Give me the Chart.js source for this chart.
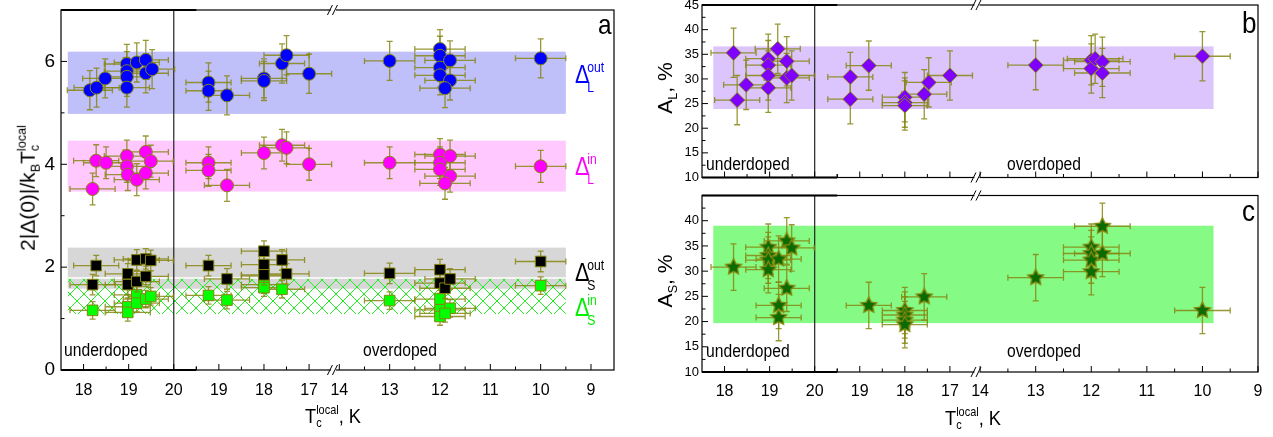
<!DOCTYPE html>
<html>
<head>
<meta charset="utf-8">
<script src="https://cdn.jsdelivr.net/npm/chart.js@4.4.1/dist/chart.umd.min.js"></script>
<style>
  body { margin: 0; background: #fff; width: 1273px; height: 437px; overflow: hidden; position: relative;
         font-family: "Liberation Sans", Arial, sans-serif; }
  canvas { position: absolute; }
  .t { position: absolute; white-space: nowrap; line-height: 1; color: #000; }
  .n { transform: scaleX(0.87); transform-origin: left top; }
  .st { display: inline-block; vertical-align: middle; font-size: 0.6em; line-height: 1.05; }
  .st span { display: block; }
  .dg { font-size: 25px; }
  .sp, .sb { position: absolute; left: 14px; font-size: 14px; }
  .sp { top: -2px; }
  .sb { top: 18px; }
  .rot { transform: translate(-50%, -50%) rotate(-90deg); }
</style>
</head>
<body>
<canvas id="chartA" width="640" height="437" style="left:0;top:0"></canvas>
<canvas id="chartB" width="633" height="192" style="left:640px;top:-6px"></canvas>
<canvas id="chartC" width="633" height="251" style="left:640px;top:186px"></canvas>

<div class="t n" style="left:598px;top:11px;font-size:28px">a</div>
<div class="t n" style="left:1242px;top:8px;font-size:30px">b</div>
<div class="t n" style="left:1242px;top:196px;font-size:30px">c</div>

<div class="t n" style="left:575px;top:62px;color:#0000ff"><span class="dg">Δ</span><span class="sp">out</span><span class="sb">L</span></div>
<div class="t n" style="left:575px;top:154px;color:#ff00ff"><span class="dg">Δ</span><span class="sp">in</span><span class="sb">L</span></div>
<div class="t n" style="left:575px;top:260px;color:#000"><span class="dg">Δ</span><span class="sp">out</span><span class="sb">S</span></div>
<div class="t n" style="left:575px;top:295px;color:#00ee00"><span class="dg">Δ</span><span class="sp">in</span><span class="sb">S</span></div>

<div class="t n" style="left:64px;top:341px;font-size:18px">underdoped</div>
<div class="t n" style="left:363px;top:341px;font-size:18px">overdoped</div>
<div class="t n" style="left:706px;top:155px;font-size:18px">underdoped</div>
<div class="t n" style="left:1007px;top:155px;font-size:18px">overdoped</div>
<div class="t n" style="left:706px;top:342px;font-size:18px">underdoped</div>
<div class="t n" style="left:1007px;top:342px;font-size:18px">overdoped</div>

<div class="t n" style="left:305px;top:404px;font-size:21px">T<span class="st"><span>local</span><span>c</span></span>, K</div>
<div class="t n" style="left:945px;top:406px;font-size:21px">T<span class="st"><span>local</span><span>c</span></span>, K</div>
<div class="t rot" style="left:29px;top:188px;font-size:21px">2|Δ(0)|/k<sub style="font-size:0.6em">B</sub>T<span class="st"><span>local</span><span>c</span></span></div>
<div class="t rot" style="left:667px;top:88px;font-size:21px">A<sub style="font-size:0.6em">L</sub>, %</div>
<div class="t rot" style="left:667px;top:281px;font-size:21px">A<sub style="font-size:0.6em">S</sub>, %</div>

<script>
// Tc axis: underdoped 17.5..20 then overdoped 20..17 // 14..9
const UNDER_TICKS = [18, 19, 20];
const OVER_TICKS = [19, 18, 17, 14, 13, 12, 11, 10, 9];
const UNDER_MINOR = [18.5, 19.5, 20.5];
const OVER_MINOR = [19.5, 18.5, 17.5, 13.5, 12.5, 11.5, 10.5, 9.5];
const X_ERR = 0.5;

// panel a: [Tc, 2|Δ(0)|/kBTc]
const dLoutUnder = [[18.14, 5.44], [18.29, 5.49], [18.48, 5.67], [18.96, 5.95], [18.96, 5.81], [18.96, 5.70], [18.96, 5.49], [19.18, 5.98], [19.38, 6.03], [19.38, 5.77], [19.52, 5.85]];
const dLoutOver = [[19.23, 5.59], [19.23, 5.43], [18.82, 5.34], [18.0, 5.67], [18.0, 5.62], [17.6, 5.96], [17.5, 6.12], [17.0, 5.76], [13.0, 6.01], [12.0, 6.24], [12.0, 6.11], [12.0, 5.88], [12.0, 5.73], [11.8, 6.02], [11.8, 5.63], [11.9, 5.48], [10.0, 6.06]];
const dLinUnder = [[18.2, 3.52], [18.28, 4.07], [18.5, 4.03], [18.96, 4.16], [18.96, 3.96], [18.98, 3.80], [19.18, 3.70], [19.38, 4.24], [19.49, 4.06], [19.38, 3.83]];
const dLinOver = [[19.23, 4.03], [19.23, 3.88], [18.82, 3.59], [18.0, 4.22], [17.6, 4.37], [17.5, 4.32], [17.0, 4.00], [13.0, 4.03], [12.0, 4.19], [12.0, 4.03], [12.0, 3.90], [11.8, 4.16], [11.8, 3.77], [11.9, 3.63], [10.0, 3.96]];
const dSoutUnder = [[18.28, 2.03], [18.2, 1.66], [18.98, 1.87], [18.98, 1.66], [19.18, 2.14], [19.18, 1.72], [19.38, 2.16], [19.49, 2.13], [19.38, 1.82]];
const dSoutOver = [[19.23, 2.03], [18.82, 1.77], [18.0, 2.31], [18.0, 2.05], [18.0, 1.85], [17.6, 2.14], [17.5, 1.87], [13.0, 1.88], [12.0, 1.95], [12.0, 1.69], [11.9, 1.59], [11.8, 1.77], [10.0, 2.11]];
const dSinUnder = [[18.2, 1.16], [18.98, 1.23], [18.98, 1.12], [19.18, 1.46], [19.18, 1.30], [19.38, 1.38], [19.49, 1.43]];
const dSinOver = [[19.23, 1.45], [18.82, 1.36], [18.0, 1.83], [18.0, 1.66], [18.0, 1.60], [17.6, 1.57], [13.0, 1.35], [12.0, 1.38], [12.0, 1.17], [12.0, 1.04], [11.8, 1.20], [11.9, 1.10], [10.0, 1.64]];

// panel b: [Tc, A_L %]
const aLUnder = [[18.2, 35.3], [18.28, 25.7], [18.48, 28.8], [18.97, 34.1], [18.97, 32.8], [18.97, 30.7], [18.97, 28.2], [19.18, 36.1], [19.38, 33.6], [19.38, 30.2], [19.49, 30.7]];
const aLOver = [[19.21, 30.4], [19.21, 25.9], [18.8, 32.7], [18.0, 26.3], [18.0, 25.2], [18.0, 24.6], [17.57, 26.9], [17.47, 29.3], [17.0, 30.7], [13.0, 32.8], [12.0, 33.8], [12.0, 32.1], [11.93, 34.1], [11.8, 33.5], [11.8, 31.2], [10.0, 34.6]];

// panel c: [Tc, A_S %]
const aSUnder = [[18.2, 30.8], [18.97, 34.75], [18.97, 33.1], [18.97, 32.2], [18.97, 30.3], [19.2, 32.4], [19.38, 36.0], [19.49, 34.6], [19.38, 26.6], [19.2, 23.2], [19.2, 20.8]];
const aSOver = [[18.8, 23.2], [18.0, 22.2], [18.0, 21.3], [18.0, 20.3], [18.0, 19.4], [17.57, 24.9], [13.0, 28.7], [12.0, 34.75], [12.0, 33.5], [12.0, 32.2], [12.0, 29.9], [11.8, 38.9], [11.8, 33.5], [10.0, 22.2]];

// shaded ranges [low, high]
const bandLout = [4.98, 6.19];
const bandLin = [3.47, 4.46];
const bandSout = [1.58, 2.38];
const bandSin = [1.09, 1.79];
const bandAL = [23.9, 36.6];
const bandAS = [19.7, 39.0];

// position on the broken axis
function pos(t, under, k) {
  if (under) return t - 17.5;
  if (t >= 15) return 22.5 - t;
  return 6.17 + (14 - t) * k;
}

function pts(arr, under, k) {
  return arr.map(([t, v]) => ({ x: pos(t, under, k), y: v, xl: pos(t - X_ERR, under, k), xh: pos(t + X_ERR, under, k) }));
}

const hatchTile = document.createElement("canvas");
hatchTile.width = 14; hatchTile.height = 14;
(function () {
  const g = hatchTile.getContext("2d");
  g.strokeStyle = "#22ee22"; g.lineWidth = 1;
  g.beginPath();
  g.moveTo(0, 0); g.lineTo(14, 14);
  g.moveTo(14, 0); g.lineTo(0, 14);
  g.stroke();
})();

function starImage(r, fill, stroke) {
  const c = document.createElement("canvas");
  const s = Math.ceil(r * 2 + 4);
  c.width = c.height = s;
  const g = c.getContext("2d");
  g.beginPath();
  for (let i = 0; i < 10; i++) {
    const a = -Math.PI / 2 + i * Math.PI / 5;
    const rr = i % 2 ? r * 0.5 : r;
    g.lineTo(s / 2 + rr * Math.cos(a), s / 2 + rr * Math.sin(a));
  }
  g.closePath();
  g.fillStyle = fill; g.fill();
  g.strokeStyle = stroke; g.lineWidth = 1.3; g.stroke();
  return c;
}

const OLIVE = "#868612";

const panels = {
  chartA: { k: 1.116, max: 12.26, brk: 6.04, yMinor: [1, 3, 5], yMajor: [0, 2, 4, 6],
    bands: [
      { r: bandLout, t0: 17.65, t1: 9.5, color: "#bfbffa" },
      { r: bandLin, t0: 17.65, t1: 9.5, color: "#ffc8ff" },
      { r: bandSout, t0: 17.65, t1: 9.5, color: "#d7d7d7" },
      { r: bandSin, t0: 17.65, t1: 9.5, hatch: true }
    ] },
  chartB: { k: 1.233, max: 12.335, brk: 6.1, yMinor: [12.5, 17.5, 22.5, 27.5, 32.5, 37.5, 42.5], yMajor: [10, 15, 20, 25, 30, 35, 40, 45],
    bands: [{ r: bandAL, t0: 17.75, t1: 9.8, color: "#dcc4fc" }] },
  chartC: { k: 1.233, max: 12.335, brk: 6.1, yMinor: [12.5, 17.5, 22.5, 27.5, 32.5, 37.5, 42.5], yMajor: [10, 15, 20, 25, 30, 35, 40],
    bands: [{ r: bandAS, t0: 17.75, t1: 9.8, color: "#85fb85" }] }
};

const decor = {
  id: "decor",
  beforeDatasetsDraw(chart) {
    const p = panels[chart.canvas.id];
    const { ctx, chartArea: a, scales: { x, y } } = chart;
    ctx.save();
    p.bands.forEach((b) => {
      const x0 = x.getPixelForValue(pos(b.t0, true, p.k));
      const x1 = x.getPixelForValue(pos(b.t1, false, p.k));
      const y0 = y.getPixelForValue(b.r[1]);
      const y1 = y.getPixelForValue(b.r[0]);
      ctx.fillStyle = b.hatch ? ctx.createPattern(hatchTile, "repeat") : b.color;
      ctx.fillRect(x0, y0, x1 - x0, y1 - y0);
      if (b.hatch) {
        ctx.strokeStyle = "#fff"; ctx.lineWidth = 1.5;
        ctx.beginPath(); ctx.moveTo(x0, y0); ctx.lineTo(x1, y0); ctx.stroke();
      }
    });
    const xb = x.getPixelForValue(pos(20, true, p.k));
    ctx.strokeStyle = "#222"; ctx.lineWidth = 1.2;
    ctx.beginPath(); ctx.moveTo(xb, a.top); ctx.lineTo(xb, a.bottom); ctx.stroke();
    ctx.restore();
  },
  beforeDatasetDraw(chart, args) {
    const ds = chart.data.datasets[args.index];
    const { ctx, scales: { x, y } } = chart;
    ctx.save();
    ctx.strokeStyle = OLIVE; ctx.globalAlpha = 0.85; ctx.lineWidth = 1.3;
    ds.data.forEach((d) => {
      const px = x.getPixelForValue(d.x), py = y.getPixelForValue(d.y);
      const x0 = x.getPixelForValue(d.xl), x1 = x.getPixelForValue(d.xh);
      const y0 = y.getPixelForValue(d.y - ds.yErr), y1 = y.getPixelForValue(d.y + ds.yErr);
      ctx.beginPath();
      ctx.moveTo(x0, py); ctx.lineTo(x1, py);
      ctx.moveTo(px, y0); ctx.lineTo(px, y1);
      ctx.moveTo(x0, py - 3); ctx.lineTo(x0, py + 3);
      ctx.moveTo(x1, py - 3); ctx.lineTo(x1, py + 3);
      ctx.moveTo(px - 3, y0); ctx.lineTo(px + 3, y0);
      ctx.moveTo(px - 3, y1); ctx.lineTo(px + 3, y1);
      ctx.stroke();
    });
    ctx.restore();
  },
  afterDraw(chart) {
    const p = panels[chart.canvas.id];
    const { ctx, chartArea: a, scales: { x, y } } = chart;
    ctx.save();
    ctx.strokeStyle = "#000"; ctx.lineWidth = 1.2;
    ctx.strokeRect(a.left, a.top, a.right - a.left, a.bottom - a.top);
    // heavier axis piece of the underdoped part
    const xt = x.getPixelForValue(3.0);
    ctx.lineWidth = 2;
    ctx.beginPath();
    ctx.moveTo(a.left, a.top); ctx.lineTo(xt, a.top);
    ctx.moveTo(a.left, a.bottom); ctx.lineTo(xt, a.bottom);
    ctx.stroke();
    // inward ticks
    ctx.lineWidth = 1;
    const tick = (px, len) => { ctx.moveTo(px, a.bottom); ctx.lineTo(px, a.bottom - len); };
    ctx.beginPath();
    UNDER_TICKS.forEach((t) => tick(x.getPixelForValue(pos(t, true, p.k)), 6));
    OVER_TICKS.forEach((t) => tick(x.getPixelForValue(pos(t, false, p.k)), 6));
    UNDER_MINOR.forEach((t) => tick(x.getPixelForValue(pos(t, true, p.k)), 3.5));
    OVER_MINOR.forEach((t) => tick(x.getPixelForValue(pos(t, false, p.k)), 3.5));
    p.yMajor.forEach((v) => { const py = y.getPixelForValue(v); ctx.moveTo(a.left, py); ctx.lineTo(a.left + 6, py); });
    p.yMinor.forEach((v) => { const py = y.getPixelForValue(v); ctx.moveTo(a.left, py); ctx.lineTo(a.left + 3.5, py); });
    ctx.stroke();
    // axis break marks
    const xb = x.getPixelForValue(p.brk);
    [a.top, a.bottom].forEach((yy) => {
      ctx.fillStyle = "#fff";
      ctx.fillRect(xb - 2.5, yy - 2, 5, 4);
      ctx.beginPath();
      ctx.moveTo(xb - 6, yy + 5); ctx.lineTo(xb - 1, yy - 5);
      ctx.moveTo(xb - 1, yy + 5); ctx.lineTo(xb + 4, yy - 5);
      ctx.stroke();
    });
    ctx.restore();
  }
};

Chart.defaults.font.family = "'Liberation Sans', Arial, sans-serif";
Chart.defaults.color = "#000";

function makeChart(id, datasets, o) {
  const p = panels[id];
  const tickPos = UNDER_TICKS.map((t) => pos(t, true, p.k)).concat(OVER_TICKS.map((t) => pos(t, false, p.k)));
  const tickLabels = UNDER_TICKS.concat(OVER_TICKS).map(String);
  return new Chart(document.getElementById(id), {
    type: "scatter",
    data: { datasets },
    options: {
      responsive: false,
      animation: false,
      events: [],
      layout: { padding: { top: o.top, right: o.right, left: 0, bottom: 0 } },
      plugins: { legend: { display: false }, tooltip: { enabled: false } },
      scales: {
        x: {
          type: "linear", min: 0, max: p.max,
          grid: { display: false, drawTicks: false }, border: { display: false },
          afterBuildTicks: (s) => { s.ticks = tickPos.map((v) => ({ value: v })); },
          afterFit: (s) => { s.height = o.xH; s.paddingLeft = 0; s.paddingRight = 0; },
          ticks: { display: o.xLabels, autoSkip: false, maxRotation: 0, padding: o.xPad,
                   font: { size: 16 }, callback: (v, i) => tickLabels[i] }
        },
        y: {
          min: o.yMin, max: o.yMax,
          grid: { display: false, drawTicks: false }, border: { display: false },
          afterBuildTicks: (s) => { s.ticks = p.yMajor.map((v) => ({ value: v })); },
          afterFit: (s) => { s.width = o.yW; s.paddingTop = 0; s.paddingBottom = 0; },
          ticks: { padding: o.yPad, font: { size: o.yFont } }
        }
      }
    },
    plugins: [decor]
  });
}

const kA = panels.chartA.k, kB = panels.chartB.k;
const base = { showLine: false, borderColor: OLIVE, borderWidth: 1 };

makeChart("chartA", [
  { ...base, data: pts(dLoutUnder, true, kA).concat(pts(dLoutOver, false, kA)), yErr: 0.38, pointStyle: "circle", pointRadius: 6.5, backgroundColor: "#0000ff" },
  { ...base, data: pts(dLinUnder, true, kA).concat(pts(dLinOver, false, kA)), yErr: 0.31, pointStyle: "circle", pointRadius: 6.5, backgroundColor: "#ff00ff" },
  { ...base, data: pts(dSoutUnder, true, kA).concat(pts(dSoutOver, false, kA)), yErr: 0.2, pointStyle: "rect", pointRadius: 7.5, backgroundColor: "#000000" },
  { ...base, data: pts(dSinUnder, true, kA).concat(pts(dSinOver, false, kA)), yErr: 0.17, pointStyle: "rect", pointRadius: 7.5, backgroundColor: "#00ff00" }
], { top: 10, right: 26, xH: 67, yW: 61, yMin: 0, yMax: 7, xLabels: true, xPad: 11, yPad: 6, yFont: 19 });

makeChart("chartB", [
  { ...base, data: pts(aLUnder, true, kB).concat(pts(aLOver, false, kB)), yErr: 5, pointStyle: "rectRot", pointRadius: 7.5, backgroundColor: "#7f00ff" }
], { top: 11, right: 15, xH: 4, yW: 62, yMin: 10, yMax: 45, xLabels: false, xPad: 10, yPad: 3, yFont: 13 });

makeChart("chartC", [
  { ...base, data: pts(aSUnder, true, kB).concat(pts(aSOver, false, kB)), yErr: 4.6, pointStyle: starImage(8.5, "#0b6b00", "#8a8a10"), pointRadius: 8.5 }
], { top: 4, right: 15, xH: 65, yW: 62, yMin: 10, yMax: 45, xLabels: true, xPad: 10, yPad: 3, yFont: 13 });
</script>
</body>
</html>
